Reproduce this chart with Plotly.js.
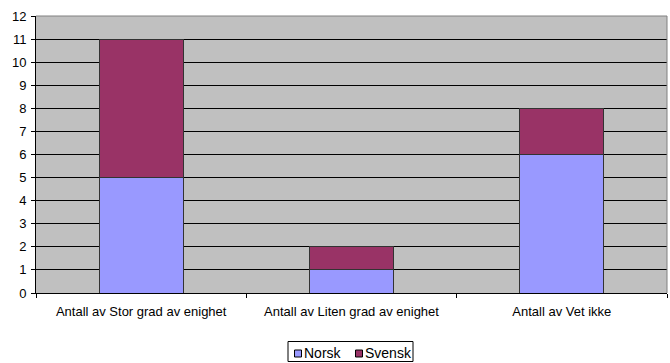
<!DOCTYPE html>
<html>
<head>
<meta charset="utf-8">
<script src="https://cdn.plot.ly/plotly-3.0.1.min.js"></script>
<style>html,body{margin:0;padding:0;background:#fff}#chart{width:670px;height:363px}</style>
</head>
<body>
<div id="chart"></div>
<script>
// Counts of answers per category, split by respondent group
const categories = ["Antall av Stor grad av enighet", "Antall av Liten grad av enighet", "Antall av Vet ikke"];
const norsk = [5, 1, 6];
const svensk = [6, 1, 2];
const seriesNames = ["Norsk", "Svensk"];
const seriesColors = ["#9999FF", "#993366"];
const yTicks = [0,1,2,3,4,5,6,7,8,9,10,11,12];

const W = 670, H = 363;
const M = {l: 36, r: 3, t: 16, b: 70};
const plotW = W - M.l - M.r, plotH = H - M.t - M.b;
// pixel -> paper coordinates, used for the hand-built legend box
const px = x => (x - M.l) / plotW;
const py = y => (H - M.b - y) / plotH;

const barLine = {color: "#333333", width: 1};
const values = [norsk, svensk];

const traces = values.map((v, i) => ({
  type: "bar", name: seriesNames[i], x: categories, y: v,
  marker: {color: seriesColors[i], line: barLine}
}));

// compact legend: box, two swatches and their labels
const legendFont = {size: 14};
const legendShapes = [
  {type: "rect", xref: "paper", yref: "paper", x0: px(288), x1: px(413), y0: py(361.5), y1: py(341.5),
   line: {color: "#000", width: 1}, fillcolor: "#fff", layer: "above"},
  {type: "rect", xref: "paper", yref: "paper", x0: px(294.5), x1: px(301.5), y0: py(357), y1: py(350),
   line: {color: "#000", width: 1}, fillcolor: seriesColors[0], layer: "above"},
  {type: "rect", xref: "paper", yref: "paper", x0: px(355.5), x1: px(362.5), y0: py(357), y1: py(350),
   line: {color: "#000", width: 1}, fillcolor: seriesColors[1], layer: "above"}
];
const legendLabels = [
  {xref: "paper", yref: "paper", x: px(302), y: py(352.5), xanchor: "left", yanchor: "middle",
   text: seriesNames[0], showarrow: false, font: legendFont},
  {xref: "paper", yref: "paper", x: px(363), y: py(352.5), xanchor: "left", yanchor: "middle",
   text: seriesNames[1], showarrow: false, font: legendFont}
];

const layout = {
  width: W, height: H,
  margin: {l: M.l, r: M.r, t: M.t, b: M.b, autoexpand: false},
  paper_bgcolor: "#ffffff",
  plot_bgcolor: "#C0C0C0",
  barmode: "stack",
  bargap: 0.6,
  font: {family: "Liberation Sans, Arial, sans-serif", size: 13, color: "#000"},
  showlegend: false,
  xaxis: {type: "category", showgrid: false, showline: true, linecolor: "#000", linewidth: 1,
          ticks: "outside", ticklen: 4, tickcolor: "#000", tickson: "boundaries",
          ticklabelstandoff: 6, tickfont: {size: 13}, zeroline: false, fixedrange: true},
  yaxis: {range: [0, 12], tickmode: "array", tickvals: yTicks, showgrid: true, gridcolor: "#000", gridwidth: 1,
          showline: true, linecolor: "#000", linewidth: 1, ticks: "outside", ticklen: 4, tickcolor: "#000",
          ticklabelstandoff: 2, tickfont: {size: 13}, zeroline: false, fixedrange: true},
  shapes: [
    {type: "line", xref: "paper", yref: "paper", x0: 0, x1: 1, y0: 1, y1: 1, line: {color: "#808080", width: 1}},
    {type: "line", xref: "paper", yref: "paper", x0: 1, x1: 1, y0: 0, y1: 1, line: {color: "#808080", width: 1}}
  ].concat(legendShapes),
  annotations: legendLabels
};

Plotly.newPlot("chart", traces, layout, {displayModeBar: false, staticPlot: true});
</script>
</body>
</html>
